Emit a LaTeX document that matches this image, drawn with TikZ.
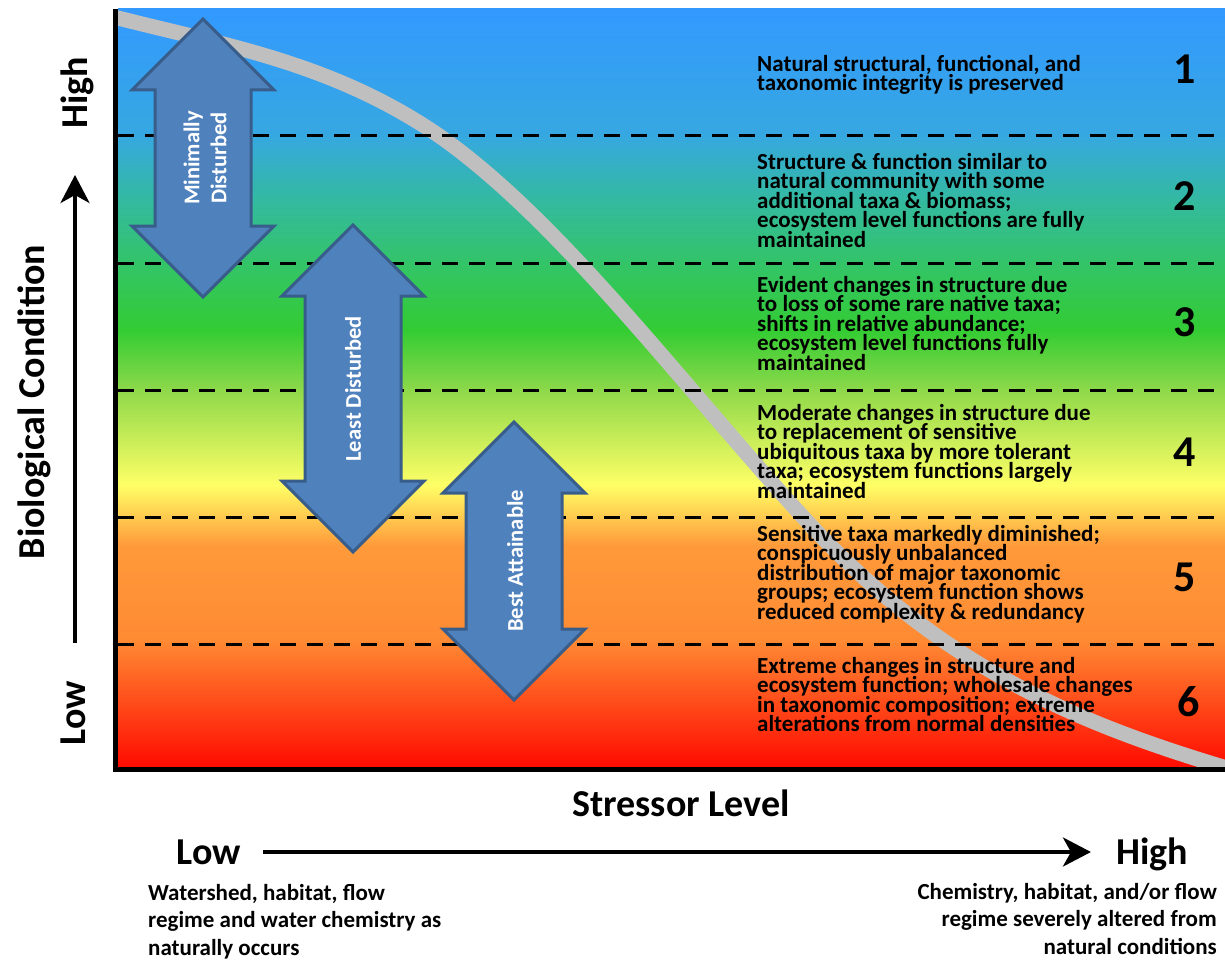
\documentclass[tikz,border=0pt]{standalone}
\usepackage{fontspec}
\setmainfont{Carlito}
\usetikzlibrary{arrows.meta}
\lineskiplimit=-40pt
\definecolor{g0}{HTML}{3399FF}
\definecolor{g1}{HTML}{36A8E0}
\definecolor{g2}{HTML}{33BAA0}
\definecolor{g3}{HTML}{33C468}
\definecolor{g4}{HTML}{33CC33}
\definecolor{g5}{HTML}{8ED94A}
\definecolor{g6}{HTML}{FFFF66}
\definecolor{g7}{HTML}{FF9A3A}
\definecolor{g8}{HTML}{FF8A33}
\definecolor{g9}{HTML}{FF0A00}
\definecolor{arrowfill}{HTML}{4F81BD}
\definecolor{arrowedge}{HTML}{385D8A}
\colorlet{curvegray}{black!25}
\def\plotarea{(118,9) rectangle (1225,767)}
\newcommand{\twowayarrow}[3]{% centre x, top tip y, bottom tip y
  \filldraw[bigarrow] (#1,#2) -- ++(71,71) -- ++(-23,0) -- (#1+48,#3-71) -- ++(23,0)
    -- (#1,#3) -- ++(-71,-71) -- ++(23,0) -- (#1-48,#2+71) -- ++(-23,0) -- cycle;}
\tikzset{
  level/.style={draw=black, line width=3pt, dash pattern=on 16pt off 11pt},
  stresscurve/.style={draw=curvegray, line width=15pt},
  bigarrow/.style={fill=arrowfill, draw=arrowedge, line width=3pt, line join=miter},
  arrowtext/.style={text=white, rotate=90, align=center, inner sep=0pt,
    font=\bfseries\fontsize{22.5}{27}\selectfont},
  desc/.style={anchor=north west, align=left, inner sep=0pt,
    font=\bfseries\fontsize{23}{19.5}\selectfont},
  tier/.style={font=\bfseries\fontsize{44}{44}\selectfont},
  axislabel/.style={inner sep=0pt, font=\bfseries\fontsize{38}{38}\selectfont},
  note/.style={inner sep=0pt, font=\bfseries\fontsize{23}{27.5}\selectfont},
  axisarrow/.style={line width=4pt, -{Stealth[length=28pt, width=29pt, inset=8pt]}}
}

\begin{document}
\begin{tikzpicture}[x=1pt, y=-1pt]
  \useasboundingbox (0,0) rectangle (1225,960);
  % colour bands
  \foreach \ya/\yb/\ca/\cb in {9/136/g0/g1, 136/200/g1/g2, 200/263/g2/g3,
      263/330/g3/g4, 330/390/g4/g5, 390/485/g5/g6, 485/545/g6/g7,
      545/640/g7/g8, 640/767/g8/g9}
    \shade[top color=\ca, bottom color=\cb] (118,\ya) rectangle (1225,\yb+0.6);

  \begin{scope}
    \clip \plotarea;
    \draw[stresscurve] (110,16) .. controls (223,45) and (331,62) .. (438,135)
      .. controls (560,220) and (681,384) .. (803,517)
      .. controls (944,671) and (1084,726) .. (1240,772);
  \end{scope}

  \foreach \y in {136,263,390,517,644}
    \draw[level] (118,\y) -- (1225,\y);

  \twowayarrow{203}{19}{297}
  \twowayarrow{353}{225}{552}
  \twowayarrow{514}{422}{700}
  \node[arrowtext] (mindist) at (205,158) {Minimally\\Disturbed};
  \node[arrowtext] (leastdist) at (353,389) {Least Disturbed};
  \node[arrowtext] (bestatt) at (515,561) {Best Attainable};

  \node[desc] (d1) at (757,55) {Natural structural, functional, and\\taxonomic integrity is preserved};
  \node[desc] (d2) at (757,153) {Structure \& function similar to\\natural community with some\\additional taxa \& biomass;\\ecosystem level functions are fully\\maintained};
  \node[desc] (d3) at (757,276) {Evident changes in structure due\\to loss of some rare native taxa;\\shifts in relative abundance;\\ecosystem level functions fully\\maintained};
  \node[desc] (d4) at (757,404) {Moderate changes in structure due\\to replacement of sensitive\\ubiquitous taxa by more tolerant\\taxa; ecosystem functions largely\\maintained};
  \node[desc] (d5) at (757,525) {Sensitive taxa markedly diminished;\\conspicuously unbalanced\\distribution of major taxonomic\\groups; ecosystem function shows\\reduced complexity \& redundancy};
  \node[desc] (d6) at (757,657) {Extreme changes in structure and\\ecosystem function; wholesale changes\\in taxonomic composition; extreme\\alterations from normal densities};

  \node[tier] (t1) at (1185,69) {1};
  \node[tier] (t2) at (1185,196) {2};
  \node[tier] (t3) at (1185,322) {3};
  \node[tier] (t4) at (1185,452) {4};
  \node[tier] (t5) at (1185,577) {5};
  \node[tier] (t6) at (1189,702) {6};

  % axes
  \draw[line width=5pt] (115.5,9) -- (115.5,769.5) -- (1225,769.5);

  \node[axislabel, rotate=90] (biocond) at (34,402) {Biological Condition};
  \node[axislabel, rotate=90] (bchigh) at (77,93) {High};
  \node[axislabel, rotate=90] (bclow) at (73,713) {Low};
  \coordinate (bcbot) at (75,643);
  \coordinate (bctop) at (75,175);
  \draw[axisarrow] (bcbot) -- (bctop);

  \node[axislabel] (stress) at (681,803) {Stressor Level};
  \node[axislabel, text height=24pt, text depth=0pt] (slow) at (209,852) {Low};
  \node[axislabel, text height=24pt, text depth=0pt] (shigh) at (1152,852) {High};
  \draw[axisarrow, shorten <=22pt, shorten >=25pt] (slow) -- (shigh);

  \node[note, anchor=north west, align=left] (lownote) at (148,884)
    {Watershed, habitat, flow\\regime and water chemistry as\\naturally occurs};
  \node[note, anchor=north east, align=right] (highnote) at (1217,883)
    {Chemistry, habitat, and/or flow\\regime severely altered from\\natural conditions};
\end{tikzpicture}
\end{document}
